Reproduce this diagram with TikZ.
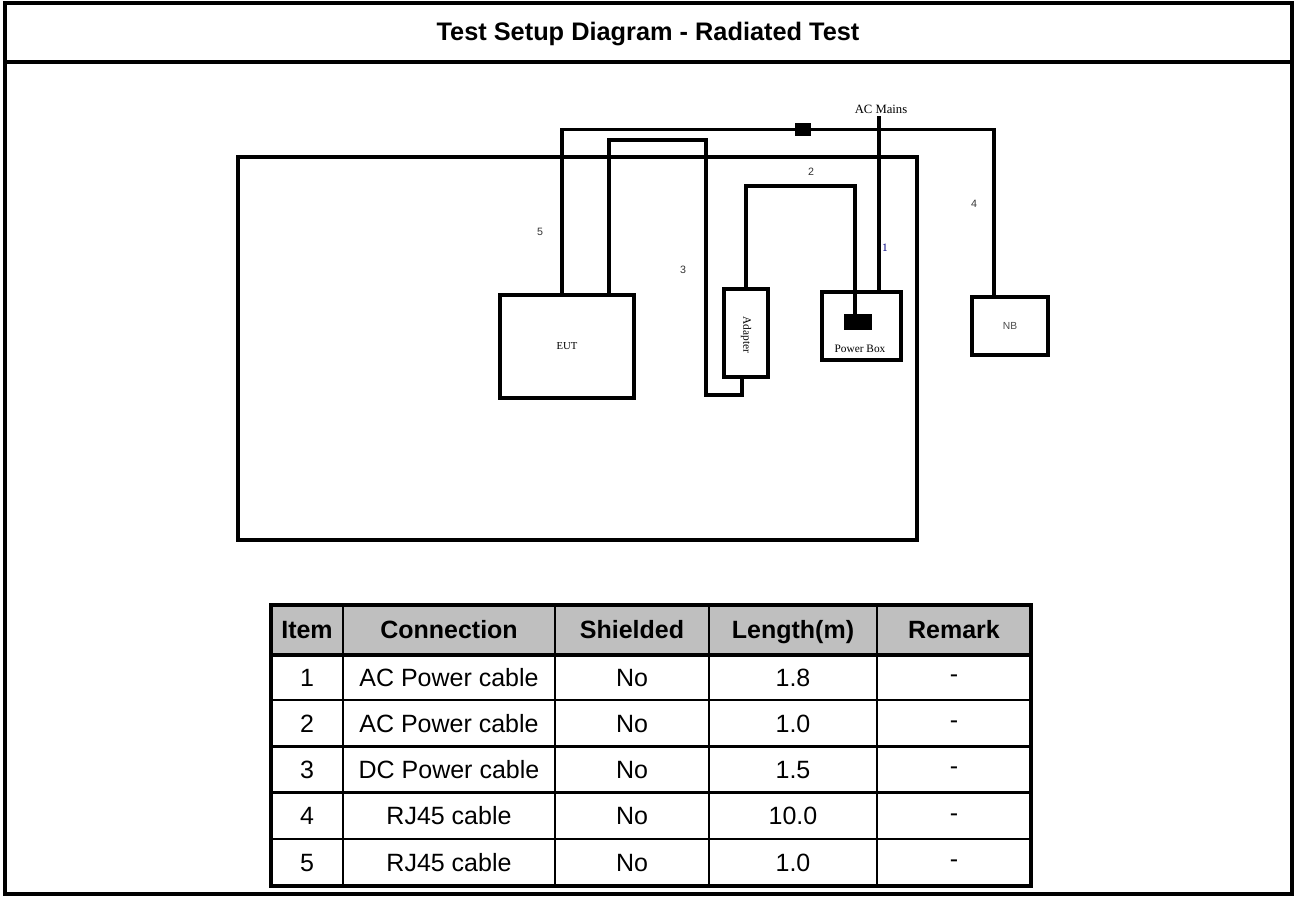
\documentclass[tikz,border=0pt]{standalone}
\usepackage{fontspec}
\setmainfont{Liberation Serif}
\newfontfamily\arialfont{Liberation Sans}
\begin{document}
\begin{tikzpicture}[x=0.75pt,y=-0.75pt,
  box/.style={draw,line width=2.5pt,inner sep=0pt},
  wire/.style={line width=2.5pt},
  lbl/.style={font=\fontsize{8.5}{10}\selectfont,inner sep=0pt},
  num/.style={font=\arialfont\fontsize{8}{10}\selectfont,inner sep=0pt,text=black!80},
  cell/.style={font=\arialfont\fontsize{18.75}{22}\selectfont,inner sep=0pt,text height=13.4pt,text depth=0pt},
  head/.style={font=\arialfont\bfseries\fontsize{18.75}{22}\selectfont,inner sep=0pt,text height=13.4pt,text depth=0pt}]

\useasboundingbox (0,0) rectangle (1295,896);

%frame
\draw[line width=3pt] (5,3) rectangle (1292,894);
\draw[line width=2.4pt] (5,62) -- (1292,62);
\node[head,font=\arialfont\bfseries\fontsize{19}{22}\selectfont] (title) at (648,32) {Test Setup Diagram - Radiated Test};

%setup
\node[box,minimum width=509.25pt,minimum height=287.25pt] (bench) at (577.5,348.5) {};
\node[box,minimum width=100.5pt,minimum height=77.25pt,lbl,font=\fontsize{8}{10}\selectfont] (eut) at (567,346.5) {EUT};
\node[box,minimum width=33pt,minimum height=66pt] (adapter) at (746,333) {};
\node[lbl,rotate=-90] (adaptertext) at (746,335) {Adapter};
\node[box,minimum width=59.25pt,minimum height=51pt] (pbox) at (861.5,326) {};
\node[fill,inner sep=0pt,minimum width=21pt,minimum height=12pt] (plug) at (858,322) {};
\node[lbl] (pboxtext) at (860,349) {Power Box};
\node[box,minimum width=57pt,minimum height=43.5pt,font=\arialfont\fontsize{7.7}{9}\selectfont,text=black!70] (nb) at (1010,326) {NB};
\node[fill,inner sep=0pt,minimum width=12pt,minimum height=9.75pt] (jct) at (803,129.5) {};
\node[lbl,anchor=base,font=\fontsize{9.5}{11}\selectfont] (acm) at (881,113) {AC Mains};

\coordinate (c5) at (562,129);
\coordinate (c4) at (994,129);
\coordinate (c3t) at (609,140);
\coordinate (c3b) at (706,395);
\coordinate (c3e) at (742,395);
\coordinate (c2) at (855,186);
\coordinate (c1) at (879,116);

%cables
\draw[wire] (eut.north -| c5) |- (jct.west);
\draw[wire] (jct.east) -| (nb.north -| c4);
\draw[wire] (eut.north -| c3t) -- (c3t) -| (c3b) -- (c3e) -- (adapter.south -| c3e);
\draw[wire] (adapter.north) |- (c2) -- (plug.north -| c2);
\draw[wire] (pbox.north -| c1) -- (c1);

\node[num] (n5) at (540,232) {5};
\node[num] (n3) at (683,270) {3};
\node[num] (n2) at (811,172) {2};
\node[lbl,text=blue!50!black] (n1) at (885,248) {1};
\node[num] (n4) at (974,204) {4};

%table
\fill[black!25] (271,605) rectangle (1031,655);
\foreach \x in {343,555,709,877} \draw[line width=2pt] (\x,605) -- (\x,886);
\foreach \y in {700.2,746.4,792.6,838.8} \draw[line width=1.9pt] (271,\y) -- (1031,\y);
\draw[line width=2.4pt] (271,655) -- (1031,655);
\draw[line width=2.6pt] (271,605) rectangle (1031,886);

\node[head] (hitem) at (307,630) {Item};
\node[head] (hconn) at (449,630) {Connection};
\node[head] (hshield) at (632,630) {Shielded};
\node[head] (hlen) at (793,630) {Length(m)};
\node[head] (hrem) at (954,630) {Remark};

\node[cell] (i1) at (307,677.6) {1};
\node[cell] (con1) at (449,677.6) {AC Power cable};
\node[cell] (s1) at (632,677.6) {No};
\node[cell] (l1) at (793,677.6) {1.8};
\node[cell] (r1) at (954,674) {-};

\node[cell] (i2) at (307,723.3) {2};
\node[cell] (con2) at (449,723.3) {AC Power cable};
\node[cell] (s2) at (632,723.3) {No};
\node[cell] (l2) at (793,723.3) {1.0};
\node[cell] (r2) at (954,719.7) {-};

\node[cell] (i3) at (307,769.5) {3};
\node[cell] (con3) at (449,769.5) {DC Power cable};
\node[cell] (s3) at (632,769.5) {No};
\node[cell] (l3) at (793,769.5) {1.5};
\node[cell] (r3) at (954,765.9) {-};

\node[cell] (i4) at (307,815.7) {4};
\node[cell] (con4) at (449,815.7) {RJ45 cable};
\node[cell] (s4) at (632,815.7) {No};
\node[cell] (l4) at (793,815.7) {10.0};
\node[cell] (r4) at (954,812.1) {-};

\node[cell] (i5) at (307,862.4) {5};
\node[cell] (con5) at (449,862.4) {RJ45 cable};
\node[cell] (s5) at (632,862.4) {No};
\node[cell] (l5) at (793,862.4) {1.0};
\node[cell] (r5) at (954,858.8) {-};
\end{tikzpicture}
\end{document}
